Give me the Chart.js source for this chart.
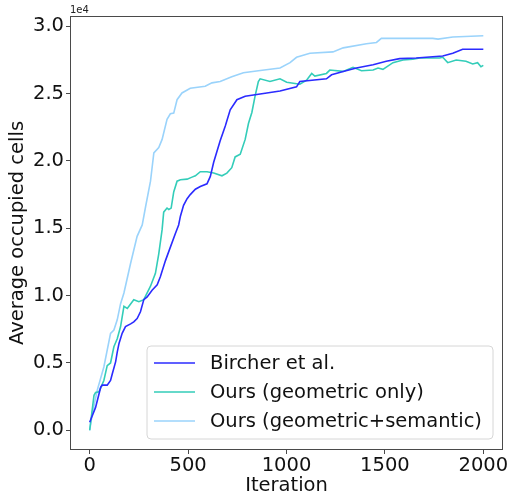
<!DOCTYPE html>
<html>
<head>
<meta charset="utf-8">
<script src="https://cdn.jsdelivr.net/npm/chart.js@4/dist/chart.umd.min.js"></script>
<style>
html,body{margin:0;padding:0;background:#fff;}
#wrap{width:510px;height:496px;position:relative;}
</style>
</head>
<body>
<div id="wrap"><canvas id="c" width="510" height="496"></canvas></div>
<script>
// Data (values in cells; axis shows them ×1e4)
const seriesLabels = ["Bircher et al.", "Ours (geometric only)", "Ours (geometric+semantic)"];
const xTicks = [0, 500, 1000, 1500, 2000];
const yTicks = [0, 5000, 10000, 15000, 20000, 25000, 30000];

const bircherX = [0,30,56,64,89,106,115,132,140,149,165,182,208,224,241,258,275,292,317,343,359,385,410,435,452,461,477,495,511,537,562,596,613,630,663,689,714,748,790,900,967,1051,1068,1203,1229,1288,1355,1440,1507,1575,1659,1794,1845,1895,2000];
const bircherY = [0.06,0.17,0.32,0.335,0.335,0.37,0.42,0.51,0.58,0.645,0.72,0.77,0.79,0.805,0.83,0.88,0.97,0.99,1.04,1.08,1.14,1.26,1.36,1.46,1.525,1.59,1.67,1.72,1.75,1.79,1.81,1.83,1.885,1.99,2.15,2.26,2.38,2.455,2.48,2.505,2.52,2.55,2.59,2.61,2.64,2.665,2.69,2.715,2.74,2.76,2.765,2.78,2.80,2.83,2.83];

const geomX = [0,22,30,47,72,89,106,123,140,157,174,191,224,250,275,309,334,351,368,376,393,402,414,427,444,461,495,520,537,562,596,630,672,697,722,739,765,790,807,824,840,857,866,916,967,1001,1068,1102,1128,1144,1203,1220,1288,1338,1381,1440,1465,1490,1541,1592,1642,1676,1777,1794,1819,1862,1912,1946,1971,1988,2000];
const geomY = [0,0.26,0.28,0.285,0.37,0.48,0.50,0.62,0.68,0.77,0.92,0.905,0.97,0.955,0.97,1.07,1.165,1.31,1.49,1.62,1.65,1.64,1.65,1.77,1.85,1.86,1.865,1.88,1.89,1.92,1.92,1.91,1.89,1.91,1.95,2.03,2.05,2.16,2.28,2.36,2.48,2.59,2.61,2.59,2.61,2.585,2.57,2.60,2.65,2.63,2.65,2.675,2.665,2.695,2.67,2.675,2.69,2.68,2.73,2.75,2.755,2.765,2.765,2.77,2.73,2.75,2.74,2.72,2.73,2.70,2.71];

const semX = [0,14,39,72,106,123,140,157,174,208,241,267,284,309,326,351,368,393,410,427,444,469,511,587,621,663,722,781,857,967,1018,1051,1119,1236,1288,1406,1457,1482,1575,1743,1770,1845,2000];
const semY = [0,0.13,0.30,0.47,0.72,0.745,0.82,0.94,1.02,1.24,1.44,1.525,1.66,1.85,2.06,2.10,2.16,2.31,2.35,2.355,2.455,2.505,2.54,2.555,2.58,2.59,2.625,2.655,2.67,2.69,2.73,2.77,2.80,2.81,2.84,2.87,2.88,2.91,2.91,2.91,2.905,2.92,2.93];

const SCALE = 1e4;
const colors = ["#2b2bff", "#33cdb9", "#9ad3fb"];
const FONT = "'DejaVu Sans', sans-serif";
const FS = 19.5;

function pts(xs, ys) { return xs.map((x, i) => ({x: x, y: ys[i] * SCALE})); }

const frameAndExtras = {
  id: 'frameAndExtras',
  afterDatasetsDraw(chart) {
    const ctx = chart.ctx, a = chart.chartArea;
    ctx.save();
    ctx.strokeStyle = '#4a4a4a';
    ctx.lineWidth = 1;
    ctx.strokeRect(Math.round(a.left) + 0.5, Math.round(a.top) + 0.5, Math.round(a.right - a.left) - 1, Math.round(a.bottom - a.top) - 1);
    ctx.fillStyle = '#222';
    ctx.font = "10px " + FONT;
    ctx.textBaseline = 'alphabetic';
    ctx.textAlign = 'left';
    ctx.fillText('1e4', a.left, a.top - 3);
    // legend
    const bx = 147, by = 346, bw = 346, bh = 93, r = 4;
    ctx.beginPath();
    ctx.moveTo(bx + r, by);
    ctx.lineTo(bx + bw - r, by); ctx.quadraticCurveTo(bx + bw, by, bx + bw, by + r);
    ctx.lineTo(bx + bw, by + bh - r); ctx.quadraticCurveTo(bx + bw, by + bh, bx + bw - r, by + bh);
    ctx.lineTo(bx + r, by + bh); ctx.quadraticCurveTo(bx, by + bh, bx, by + bh - r);
    ctx.lineTo(bx, by + r); ctx.quadraticCurveTo(bx, by, bx + r, by);
    ctx.closePath();
    ctx.fillStyle = 'rgba(255,255,255,0.8)';
    ctx.fill();
    ctx.strokeStyle = '#d6d6d6';
    ctx.stroke();
    ctx.font = FS + "px " + FONT;
    ctx.textBaseline = 'middle';
    chart.data.datasets.forEach((ds, i) => {
      const y = 363 + i * 29;
      ctx.strokeStyle = ds.borderColor;
      ctx.lineWidth = ds.borderWidth;
      ctx.beginPath(); ctx.moveTo(154, y); ctx.lineTo(195, y); ctx.stroke();
      ctx.fillStyle = '#111';
      ctx.fillText(ds.label, 210, y + 1);
    });
    ctx.restore();
  }
};

new Chart(document.getElementById('c'), {
  type: 'line',
  data: {
    datasets: [
      {label: seriesLabels[0], data: pts(bircherX, bircherY), borderColor: colors[0], borderWidth: 1.6},
      {label: seriesLabels[1], data: pts(geomX, geomY), borderColor: colors[1], borderWidth: 1.6},
      {label: seriesLabels[2], data: pts(semX, semY), borderColor: colors[2], borderWidth: 1.6}
    ]
  },
  options: {
    responsive: false,
    animation: false,
    devicePixelRatio: 1,
    layout: {padding: {top: 16, right: 7, bottom: 0, left: 0}},
    elements: {point: {radius: 0}, line: {tension: 0, fill: false}},
    plugins: {legend: {display: false}, tooltip: {enabled: false}},
    scales: {
      x: {
        type: 'linear', min: -100, max: 2100,
        afterBuildTicks(s) { s.ticks = xTicks.map(v => ({value: v})); },
        afterFit(s) { s.height = 46; },
        ticks: {color: '#111', font: {family: FONT, size: FS}, padding: 0, maxRotation: 0, autoSkip: false,
          callback: v => String(v)},
        grid: {drawOnChartArea: false, tickLength: 4, color: '#4a4a4a'},
        border: {display: false},
        title: {display: true, text: 'Iteration', color: '#111', font: {family: FONT, size: FS, lineHeight: 1.2}, padding: {top: 0, bottom: -2}}
      },
      y: {
        type: 'linear', min: -1465, max: 30765,
        afterBuildTicks(s) { s.ticks = yTicks.map(v => ({value: v})); },
        afterFit(s) { s.width = 70; },
        ticks: {color: '#111', font: {family: FONT, size: FS}, padding: 2,
          callback: v => (v / SCALE).toFixed(1)},
        grid: {drawOnChartArea: false, tickLength: 4, color: '#4a4a4a'},
        border: {display: false},
        title: {display: true, text: 'Average occupied cells', color: '#111', font: {family: FONT, size: FS, lineHeight: 1.2}, padding: {top: 6, bottom: 0}}
      }
    }
  },
  plugins: [frameAndExtras]
});
</script>
</body>
</html>
